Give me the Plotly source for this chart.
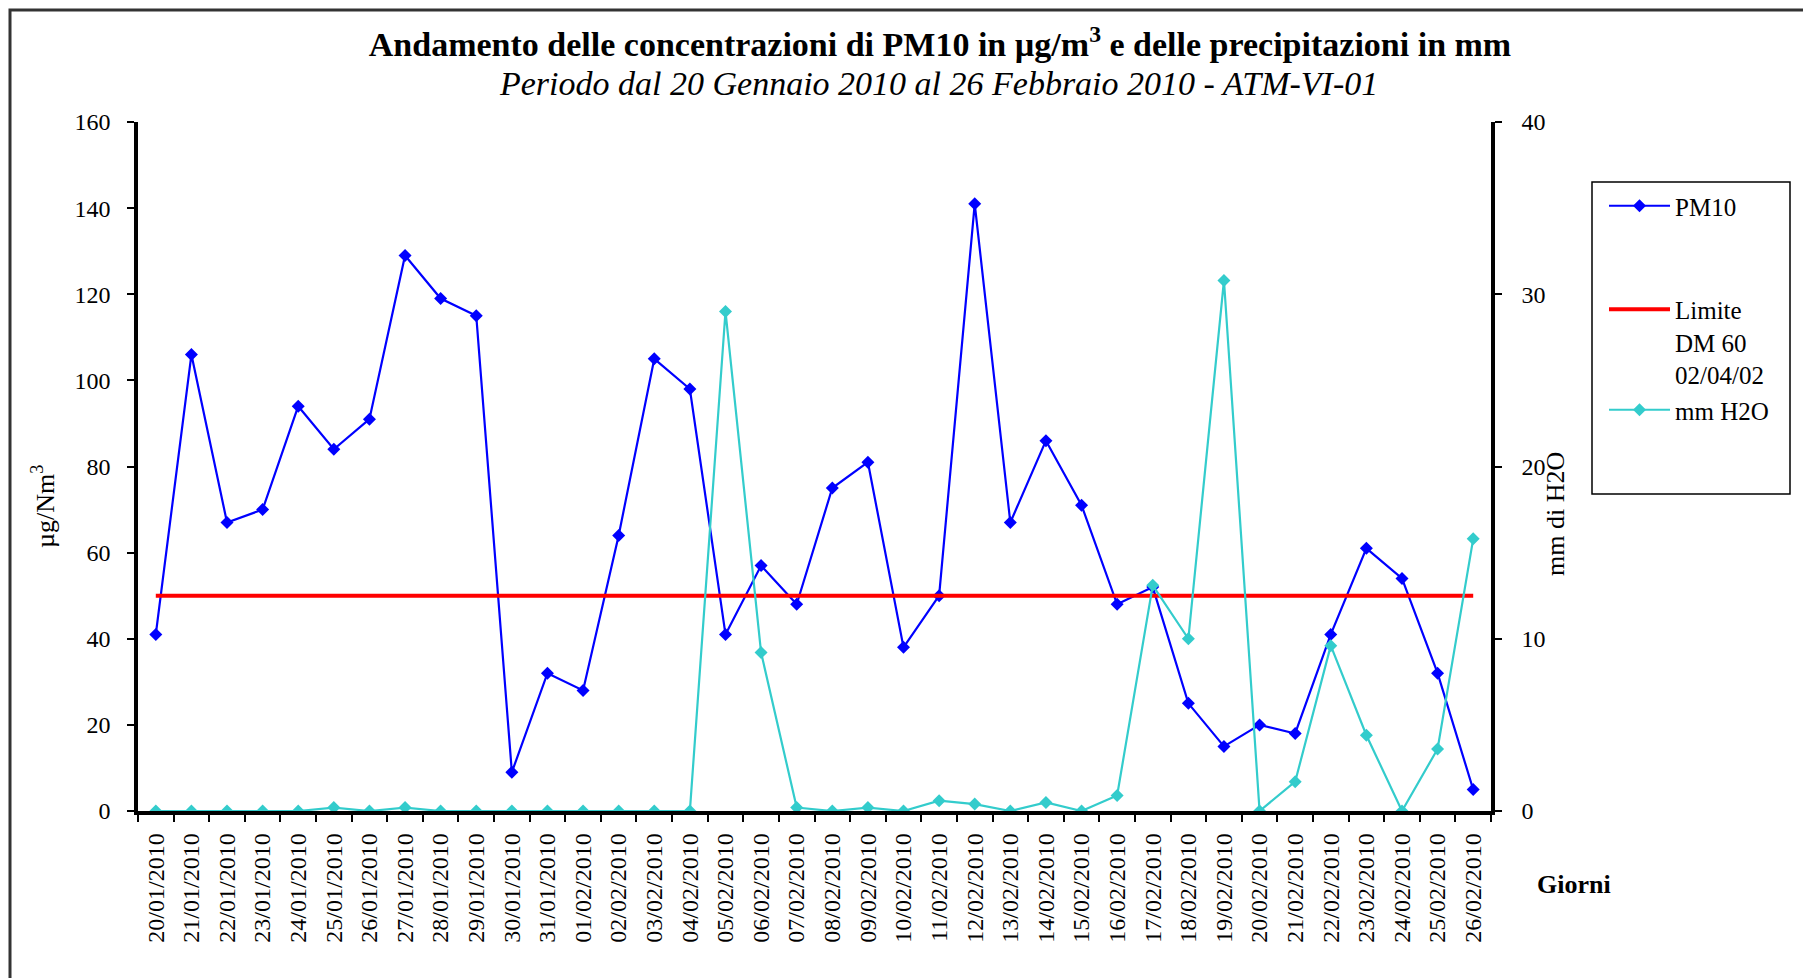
import plotly.graph_objects as go

# ── Data ─────────────────────────────────────────────────────────────────────
giorni = [
    "20/01/2010", "21/01/2010", "22/01/2010", "23/01/2010", "24/01/2010",
    "25/01/2010", "26/01/2010", "27/01/2010", "28/01/2010", "29/01/2010",
    "30/01/2010", "31/01/2010", "01/02/2010", "02/02/2010", "03/02/2010",
    "04/02/2010", "05/02/2010", "06/02/2010", "07/02/2010", "08/02/2010",
    "09/02/2010", "10/02/2010", "11/02/2010", "12/02/2010", "13/02/2010",
    "14/02/2010", "15/02/2010", "16/02/2010", "17/02/2010", "18/02/2010",
    "19/02/2010", "20/02/2010", "21/02/2010", "22/02/2010", "23/02/2010",
    "24/02/2010", "25/02/2010", "26/02/2010",
]
pm10 = [
    41, 106, 67, 70, 94, 84, 91, 129, 119, 115,
    9, 32, 28, 64, 105, 98, 41, 57, 48, 75,
    81, 38, 50, 141, 67, 86, 71, 48, 52, 25,
    15, 20, 18, 41, 61, 54, 32, 5,
]
mm_h2o = [
    0, 0, 0, 0, 0, 0.2, 0, 0.2, 0, 0,
    0, 0, 0, 0, 0, 0, 29.0, 9.2, 0.2, 0,
    0.2, 0, 0.6, 0.4, 0, 0.5, 0, 0.9, 13.1, 10.0,
    30.8, 0, 1.7, 9.6, 4.4, 0, 3.6, 15.8,
]
limite = [50] * len(giorni)

y_ticks = [0, 20, 40, 60, 80, 100, 120, 140, 160]
y2_ticks = [0, 10, 20, 30, 40]

# ── Style ────────────────────────────────────────────────────────────────────
FONT = "Liberation Serif, Times New Roman, serif"
C_PM10 = "#0000FF"
C_LIM = "#FF0000"
C_H2O = "#33CCCC"

W, H = 1803, 978
L, R, T, B = 138, 1491, 122, 811


def px_x(p):
    return (p - L) / (R - L)


def px_y(p):
    return (B - p) / (B - T)


fig = go.Figure()
fig.add_trace(go.Scatter(
    x=giorni, y=pm10, name="PM10", mode="lines+markers",
    line=dict(color=C_PM10, width=2.2),
    marker=dict(color=C_PM10, symbol="diamond", size=10),
    legendgroup="a",
))
fig.add_trace(go.Scatter(
    x=giorni, y=limite, name="Limite<br>DM 60<br>02/04/02", mode="lines",
    line=dict(color=C_LIM, width=4),
    legendgroup="b",
))
fig.add_trace(go.Scatter(
    x=giorni, y=mm_h2o, name="mm H2O", mode="lines+markers",
    line=dict(color=C_H2O, width=2.2),
    marker=dict(color=C_H2O, symbol="diamond", size=10),
    yaxis="y2", legendgroup="b",
))

axis_common = dict(showgrid=False, zeroline=False, tickcolor="black", tickwidth=2, ticklen=7)
n = len(giorni)
boundaries = [i - 0.5 for i in range(n + 1)]

fig.update_layout(
    width=W, height=H,
    paper_bgcolor="white", plot_bgcolor="white",
    font=dict(family=FONT, size=24, color="black"),
    margin=dict(l=L, r=W - R, t=T, b=H - B, autoexpand=False),
    title=dict(
        text="<b>Andamento delle concentrazioni di PM10 in µg/m<sup>3</sup> e delle precipitazioni in mm</b>",
        font=dict(family=FONT, size=34, color="black"),
        x=940 / W, xanchor="center", xref="container",
        y=1 - 44 / H, yanchor="middle", yref="container",
    ),
    xaxis=dict(
        **axis_common, type="category", range=[-0.5, n - 0.5],
        tickson="boundaries", ticks="outside", tickangle=-90,
        showline=True, linecolor="black", linewidth=3.5,
        ticklabelstandoff=9, tickfont=dict(size=24),
    ),
    xaxis3=dict(
        **axis_common, overlaying="x", anchor="y", type="linear",
        range=[-0.5, n - 0.5], tickmode="array", tickvals=boundaries,
        ticks="inside", showticklabels=False, showline=False,
    ),
    yaxis=dict(
        **axis_common, range=[0, 160], tickmode="array", tickvals=y_ticks,
        ticks="outside", showline=True, linecolor="black", linewidth=3.5,
        ticklabelstandoff=12, tickfont=dict(size=24),
    ),
    yaxis3=dict(
        **axis_common, overlaying="y", anchor="x", range=[0, 160],
        tickmode="array", tickvals=y_ticks, ticks="inside",
        showticklabels=False, showline=False,
    ),
    yaxis2=dict(
        **axis_common, overlaying="y", side="right", range=[0, 40],
        tickmode="array", tickvals=y2_ticks, ticks="outside",
        showline=True, linecolor="black", linewidth=3.5,
        ticklabelstandoff=15, tickfont=dict(size=24),
    ),
    yaxis4=dict(
        **axis_common, overlaying="y", side="right", anchor="x", range=[0, 40],
        tickmode="array", tickvals=y2_ticks, ticks="inside",
        showticklabels=False, showline=False,
    ),
    legend=dict(
        x=px_x(1604), y=px_y(183), xanchor="left", yanchor="top",
        traceorder="grouped", tracegroupgap=68, valign="top",
        font=dict(family=FONT, size=25), bgcolor="rgba(0,0,0,0)",
        itemwidth=61,
    ),
    shapes=[
        # legend frame
        dict(type="rect", xref="paper", yref="paper",
             x0=px_x(1592), x1=px_x(1790), y0=px_y(494), y1=px_y(182),
             line=dict(color="black", width=1.5)),
        # outer chart frame
        dict(type="rect", xref="paper", yref="paper",
             x0=px_x(10), x1=px_x(1830), y0=px_y(1000), y1=px_y(10),
             line=dict(color="#333333", width=3)),
    ],
    annotations=[
        dict(text="<i>Periodo dal 20 Gennaio 2010 al 26 Febbraio 2010 - ATM-VI-01</i>",
             xref="paper", yref="paper", x=px_x(938), y=px_y(83),
             xanchor="center", yanchor="middle", showarrow=False,
             font=dict(family=FONT, size=34, color="black")),
        dict(text="<b>Giorni</b>", xref="paper", yref="paper",
             x=px_x(1574), y=px_y(884), xanchor="center", yanchor="middle",
             showarrow=False, font=dict(family=FONT, size=26, color="black")),
        # axis titles
        dict(text="µg/Nm<sup>3</sup>", xref="paper", yref="paper",
             x=px_x(43), y=px_y(506), xanchor="center", yanchor="middle",
             textangle=-90, showarrow=False, font=dict(family=FONT, size=26, color="black")),
        dict(text="mm di H2O", xref="paper", yref="paper",
             x=px_x(1555), y=px_y(514), xanchor="center", yanchor="middle",
             textangle=-90, showarrow=False, font=dict(family=FONT, size=26, color="black")),
    ],
)

# remove the default 8px body margin so the figure sits at the page origin
fig.write_html("out.html", config={"displayModeBar": False},
               post_script="document.body.style.margin='0';")
